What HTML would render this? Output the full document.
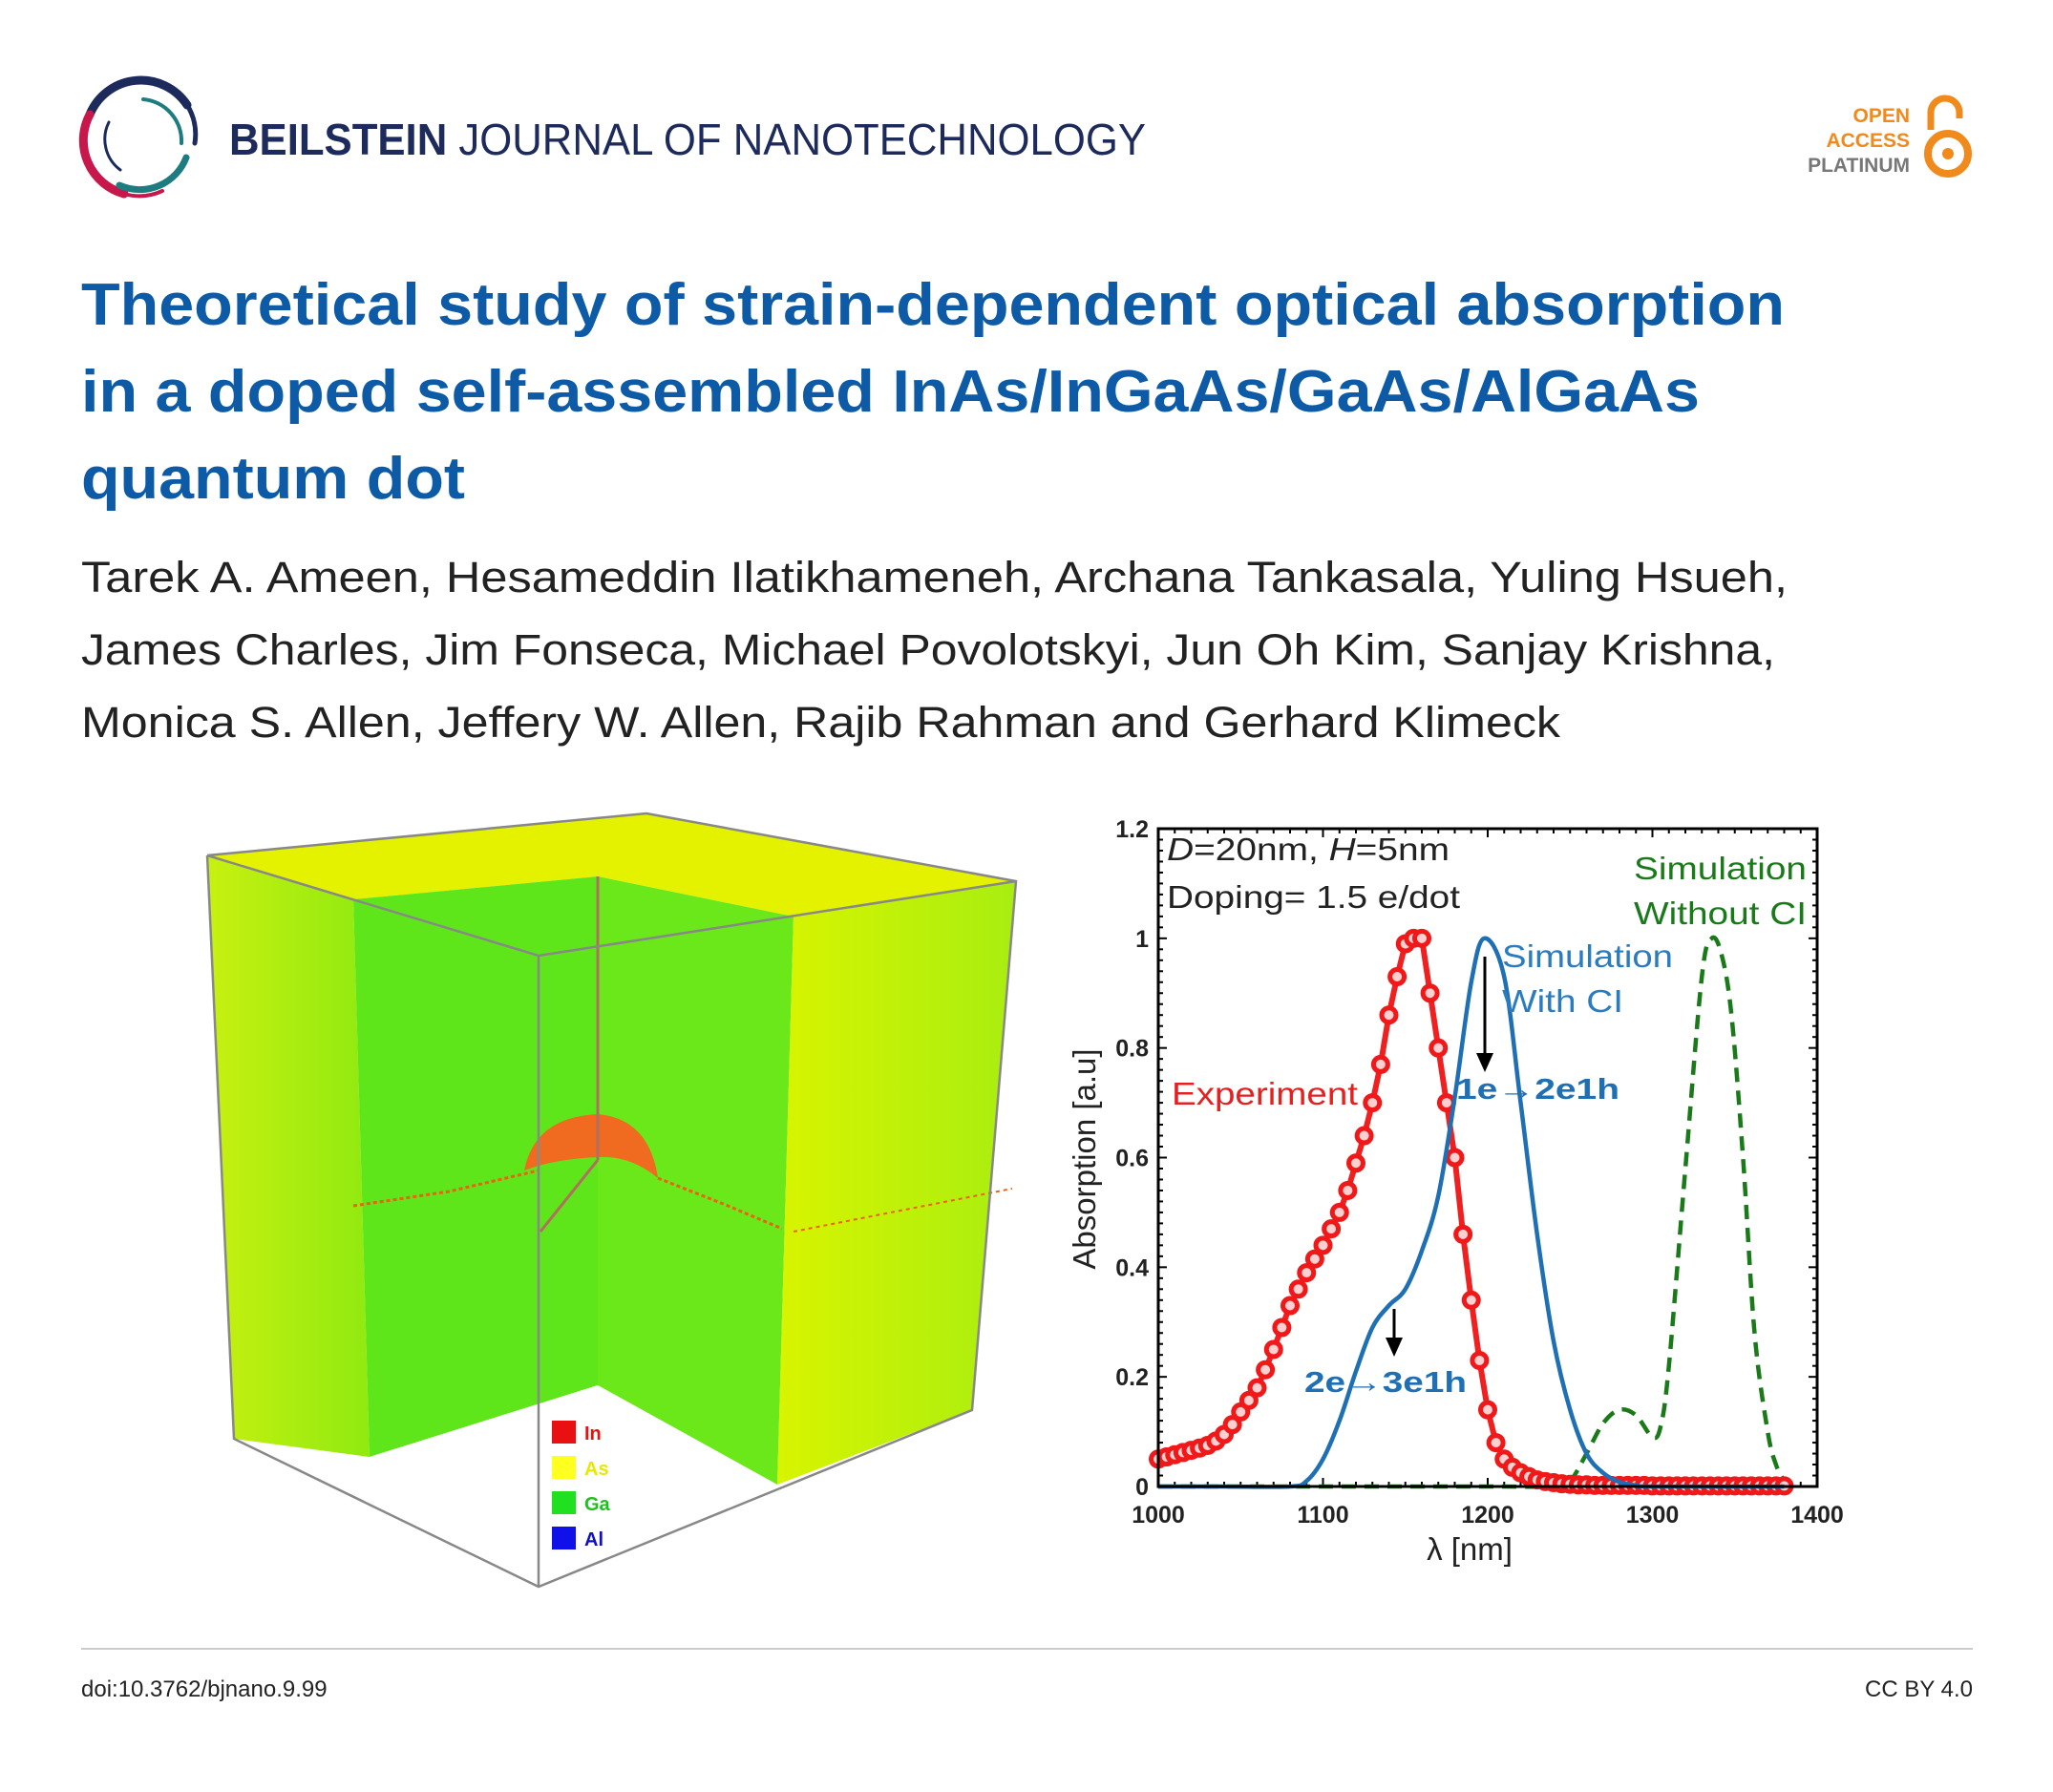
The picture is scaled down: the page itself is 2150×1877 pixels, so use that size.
<!DOCTYPE html>
<html><head><meta charset="utf-8"><style>
html,body{margin:0;padding:0;background:#fff;}
svg{display:block;}
text{font-family:"Liberation Sans",sans-serif;}
</style></head><body>
<svg id="page" width="2150" height="1877" viewBox="0 0 2150 1877" xmlns="http://www.w3.org/2000/svg">
<rect width="2150" height="1877" fill="#fff"/>
<!-- logo -->
<g fill="none" stroke-linecap="round">
  <path d="M94,120 A58,58 0 0 1 196,110" stroke="#1d2a5c" stroke-width="9"/>
  <path d="M196,110 A58,58 0 0 1 204,150" stroke="#1d2a5c" stroke-width="5"/>
  <path d="M94,120 A58,58 0 0 0 130,203" stroke="#c8174a" stroke-width="9"/>
  <path d="M130,203 A58,58 0 0 0 170,200" stroke="#c8174a" stroke-width="4"/>
  <path d="M195,165 A52,52 0 0 1 125,194" stroke="#1c7c80" stroke-width="7"/>
  <path d="M150,104 A44,44 0 0 1 190,150" stroke="#1c7c80" stroke-width="4"/>
  <path d="M114,128 A40,40 0 0 0 126,178" stroke="#1d2a5c" stroke-width="3"/>
</g>
<text x="240" y="162" font-size="46" fill="#1d2a5c" textLength="960" lengthAdjust="spacingAndGlyphs"><tspan font-weight="bold">BEILSTEIN</tspan> JOURNAL OF NANOTECHNOLOGY</text>
<g font-weight="bold" font-size="21" text-anchor="end">
  <text x="2000" y="128" fill="#f08a1c">OPEN</text>
  <text x="2000" y="154" fill="#f08a1c">ACCESS</text>
  <text x="2000" y="180" fill="#777">PLATINUM</text>
  <path d="M2022,136 V118 A15,15 0 0 1 2052,118 V124" fill="none" stroke="#f08a1c" stroke-width="7"/>
  <circle cx="2040" cy="161" r="21" fill="none" stroke="#f08a1c" stroke-width="8"/>
  <circle cx="2040" cy="161" r="6" fill="#f08a1c"/>
</g>
<g font-weight="bold" font-size="62" fill="#0d5aa7">
  <text x="85" y="340" textLength="1784" lengthAdjust="spacingAndGlyphs">Theoretical study of strain-dependent optical absorption</text>
  <text x="85" y="431" textLength="1695" lengthAdjust="spacingAndGlyphs">in a doped self-assembled InAs/InGaAs/GaAs/AlGaAs</text>
  <text x="85" y="522" textLength="402" lengthAdjust="spacingAndGlyphs">quantum dot</text>
</g>
<g font-size="45" fill="#222">
  <text x="85" y="620" textLength="1787" lengthAdjust="spacingAndGlyphs">Tarek A. Ameen, Hesameddin Ilatikhameneh, Archana Tankasala, Yuling Hsueh,</text>
  <text x="85" y="696" textLength="1774" lengthAdjust="spacingAndGlyphs">James Charles, Jim Fonseca, Michael Povolotskyi, Jun Oh Kim, Sanjay Krishna,</text>
  <text x="85" y="772" textLength="1549" lengthAdjust="spacingAndGlyphs">Monica S. Allen, Jeffery W. Allen, Rajib Rahman and Gerhard Klimeck</text>
</g>
<!-- cube figure -->
<g>
  <defs>
    <linearGradient id="gl" x1="0" y1="0" x2="1" y2="0"><stop offset="0" stop-color="#c8f010"/><stop offset="1" stop-color="#90ea10"/></linearGradient>
    <linearGradient id="gr" x1="0" y1="0" x2="1" y2="0"><stop offset="0" stop-color="#d8f400"/><stop offset="1" stop-color="#a8ee10"/></linearGradient>
  </defs>
  <polygon points="217,896 677,852 1064,923 831,960 626,918 370,942" fill="#e4f200"/>
  <polygon points="217,896 370,942 387,1526 245,1507" fill="url(#gl)"/>
  <polygon points="370,942 626,918 626,1451 387,1526" fill="#5ee61a"/>
  <polygon points="626,918 831,960 814,1555 626,1451" fill="#6ae81a"/>
  <polygon points="831,960 1064,923 1018,1477 814,1555" fill="url(#gr)"/>
  <polygon points="387,1526 626,1451 814,1555 564,1662" fill="#fff"/>
  <polyline points="370,1263 470,1248 564,1226" fill="none" stroke="#f06010" stroke-width="3" stroke-dasharray="4 3"/>
  <polyline points="689,1234 760,1262 819,1287" fill="none" stroke="#f06010" stroke-width="3" stroke-dasharray="4 3"/>
  <polyline points="831,1290 1060,1245" fill="none" stroke="#f06010" stroke-width="2" stroke-dasharray="4 4"/>
  <path d="M549,1226 Q560,1170 626,1167 Q680,1172 689,1234 Q660,1210 626,1212 Q580,1214 549,1226 Z" fill="#f06a20"/>
  <line x1="626" y1="918" x2="626" y2="1215" stroke="#b07060" stroke-width="3"/>
  <line x1="626" y1="1215" x2="566" y2="1290" stroke="#b07060" stroke-width="3"/>
  <g fill="none" stroke="#888" stroke-width="2.5">
    <polyline points="217,896 677,852 1064,923 1018,1477 564,1662 245,1507 217,896"/>
    <polyline points="217,896 564,1001 1064,923"/>
    <line x1="564" y1="1001" x2="564" y2="1662"/>
  </g>
  <g font-weight="bold" font-size="20">
    <rect x="578" y="1488" width="25" height="24" fill="#e81010"/><text x="612" y="1508" fill="#e81010">In</text>
    <rect x="578" y="1525" width="25" height="24" fill="#ffff20"/><text x="612" y="1545" fill="#e8e800">As</text>
    <rect x="578" y="1562" width="25" height="24" fill="#20e020"/><text x="612" y="1582" fill="#20c020">Ga</text>
    <rect x="578" y="1599" width="25" height="24" fill="#1010e8"/><text x="612" y="1619" fill="#1010c0">Al</text>
  </g>
</g>
<g id="chart"></g>
<line x1="85" y1="1727" x2="2066" y2="1727" stroke="#ccc" stroke-width="2"/>
<text x="85" y="1777" font-size="24" fill="#222">doi:10.3762/bjnano.9.99</text>
<text x="2066" y="1777" font-size="24" fill="#222" text-anchor="end">CC BY 4.0</text>
</svg>
<script>
const expX = [1000,1005,1010,1015,1020,1025,1030,1035,1040,1045,1050,1055,1060,1065,1070,1075,1080,1085,1090,1095,1100,1105,1110,1115,1120,1125,1130,1135,1140,1145,1150,1155,1160,1165,1170,1175,1180,1185,1190,1195,1200,1205,1210,1215,1220,1225,1230,1235,1240,1245,1250,1255,1260,1265,1270,1275,1280,1285,1290,1295,1300,1305,1310,1315,1320,1325,1330,1335,1340,1345,1350,1355,1360,1365,1370,1375,1380];
const expY = [0.05,0.054,0.058,0.062,0.066,0.07,0.075,0.083,0.095,0.113,0.136,0.157,0.18,0.213,0.25,0.29,0.33,0.36,0.39,0.415,0.44,0.47,0.5,0.54,0.59,0.64,0.7,0.77,0.86,0.93,0.99,1.0,1.0,0.9,0.8,0.7,0.6,0.46,0.34,0.23,0.14,0.08,0.05,0.035,0.025,0.018,0.012,0.009,0.007,0.005,0.004,0.003,0.003,0.002,0.002,0.002,0.002,0.002,0.002,0.002,0.001,0.001,0.001,0.001,0.001,0.001,0.001,0.001,0.001,0.001,0.001,0.001,0.001,0.001,0.001,0.001,0.001];
const blueX = [1000,1040,1080,1090,1100,1110,1120,1130,1140,1150,1160,1170,1180,1190,1198,1210,1220,1230,1240,1250,1260,1270,1280,1290,1300,1380];
const blueY = [0,0,0,0.01,0.05,0.12,0.21,0.29,0.33,0.36,0.43,0.53,0.71,0.92,1.0,0.93,0.7,0.46,0.265,0.14,0.06,0.025,0.008,0.002,0,0];
const greenX = [1000,1100,1200,1240,1250,1260,1270,1280,1290,1300,1305,1310,1320,1330,1336,1342,1348,1355,1362,1370,1375,1380,1383];
const greenY = [0,0,0,0,0.01,0.06,0.115,0.14,0.13,0.09,0.11,0.22,0.58,0.93,1.0,0.97,0.86,0.6,0.28,0.1,0.04,0.01,0];
const xTicks = [1000,1100,1200,1300,1400];
const yTicks = [0,0.2,0.4,0.6,0.8,1,1.2];
const yTickLabels = ['0','0.2','0.4','0.6','0.8','1','1.2'];

const L=1213,R=1903,T=868,B=1557;
const X = v => L + (v-1000)/400*(R-L);
const Y = v => B - v/1.2*(B-T);
const NS='http://www.w3.org/2000/svg';
const g=document.getElementById('chart');
function mk(tag,attrs,parent){const e=document.createElementNS(NS,tag);for(const k in attrs)e.setAttribute(k,attrs[k]);(parent||g).appendChild(e);return e;}
function smooth(xs,ys){const p=xs.map((x,i)=>[X(x),Y(ys[i])]);let d='M'+p[0][0]+','+p[0][1];
 for(let i=0;i<p.length-1;i++){const p0=p[Math.max(0,i-1)],p1=p[i],p2=p[i+1],p3=p[Math.min(p.length-1,i+2)];
 const c1=[p1[0]+(p2[0]-p0[0])/6,p1[1]+(p2[1]-p0[1])/6],c2=[p2[0]-(p3[0]-p1[0])/6,p2[1]-(p3[1]-p1[1])/6];
 d+=' C'+c1[0]+','+c1[1]+' '+c2[0]+','+c2[1]+' '+p2[0]+','+p2[1];}return d;}

const tk=mk('g',{stroke:'#000','stroke-width':2});


for(let i=0;i<=60;i++){const v=i*0.02,y=Y(v),len=(i%10===0)?9:5;
 mk('line',{x1:L,y1:y,x2:L+len,y2:y},tk);mk('line',{x1:R,y1:y,x2:R-len,y2:y},tk);}
for(let n=1000;n<=1400;n+=10){const x=X(n),len=(n%100===0)?9:5;
 mk('line',{x1:x,y1:B,x2:x,y2:B-len},tk);mk('line',{x1:x,y1:T,x2:x,y2:T+len},tk);}
yTicks.forEach((v,i)=>{const t=mk('text',{x:L-10,y:Y(v)+9,'font-size':25,'font-weight':'bold','text-anchor':'end',fill:'#222'});
 
 
 t.textContent=yTickLabels[i];});
xTicks.forEach(v=>{const t=mk('text',{x:X(v),y:B+38,'font-size':25,'font-weight':'bold','text-anchor':'middle',fill:'#222'});
 
 
 t.textContent=v;});

const gp=mk('path',{d:smooth(greenX,greenY),fill:'none',stroke:'#1a7a1a','stroke-width':4.5,'stroke-dasharray':'15 9'});


const rl=mk('polyline',{points:expX.map((x,i)=>X(x)+','+Y(expY[i])).join(' '),fill:'none',stroke:'#f02020','stroke-width':6});


const rg=mk('g',{});


expX.forEach((x,i)=>{const c=mk('circle',{cx:X(x),cy:Y(expY[i]),r:7.5,fill:'#ffd0d0',stroke:'#f01818','stroke-width':5},rg);
 
 });
const bp=mk('path',{d:smooth(blueX,blueY),fill:'none',stroke:'#1f6fb5','stroke-width':4.5});


const fr=mk('rect',{x:L,y:T,width:R-L,height:B-T,fill:'none',stroke:'#000','stroke-width':3});


function arrow(x,y1,y2,name){const a=mk('g',{});
 
 
 mk('line',{x1:x,y1:y1,x2:x,y2:y2-14,stroke:'#000','stroke-width':3},a);
 mk('polygon',{points:(x-9)+','+(y2-20)+' '+(x+9)+','+(y2-20)+' '+x+','+y2,fill:'#000'},a);}
arrow(1555,1002,1123,'arrow-1e-2e1h');
arrow(1460,1371,1421,'arrow-2e-3e1h');
function txt(s,attrs,name){const t=mk('text',attrs);
 
 
 t.setAttribute('lengthAdjust','spacingAndGlyphs');
 t.innerHTML=s;return t;}
txt('<tspan font-style="italic">D</tspan>=20nm, <tspan font-style="italic">H</tspan>=5nm',{x:1222,y:901,'font-size':33,fill:'#222',textLength:296},'dot-size-note');
txt('Doping= 1.5 e/dot',{x:1222,y:951,'font-size':33,fill:'#222',textLength:307},'doping-note');
txt('Simulation',{x:1711,y:921,'font-size':33,fill:'#1a7a1a',textLength:181},'label-sim-without-ci-1');
txt('Without CI',{x:1711,y:968,'font-size':33,fill:'#1a7a1a',textLength:181},'label-sim-without-ci-2');
txt('Simulation',{x:1573,y:1013,'font-size':33,fill:'#2b7bc0',textLength:179},'label-sim-with-ci-1');
txt('With CI',{x:1573,y:1060,'font-size':33,fill:'#2b7bc0',textLength:127},'label-sim-with-ci-2');
txt('Experiment',{x:1227,y:1157,'font-size':33,fill:'#e52020',textLength:195},'label-experiment');
txt('1e→2e1h',{x:1525,y:1151,'font-size':31,'font-weight':'bold',fill:'#1f6fb5',textLength:171},'label-1e-2e1h');
txt('2e→3e1h',{x:1366,y:1458,'font-size':31,'font-weight':'bold',fill:'#1f6fb5',textLength:170},'label-2e-3e1h');
txt('λ [nm]',{x:1539,y:1634,'font-size':33,fill:'#222','text-anchor':'middle'},'x-axis-title');
txt('Absorption [a.u]',{x:0,y:0,'font-size':33,fill:'#222','text-anchor':'middle',transform:'translate(1147,1214) rotate(-90)'},'y-axis-title');
</script>
</body></html>
